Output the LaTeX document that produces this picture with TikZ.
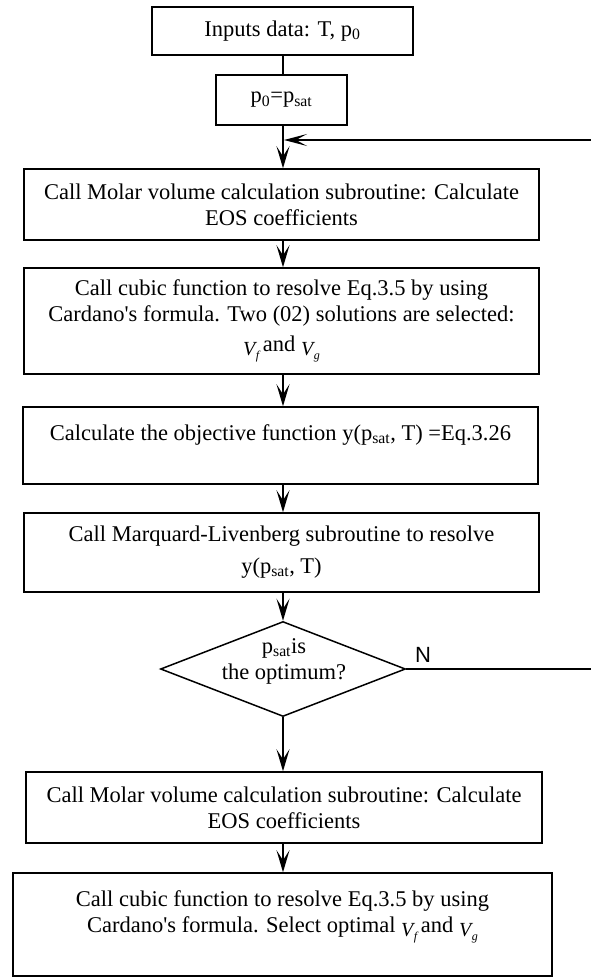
\documentclass[tikz,border=0pt]{standalone}
\usepackage{fontspec}
\setmainfont{Liberation Serif}[Ligatures=TeXOff]
\newfontfamily\labelsans{Liberation Sans}
\usetikzlibrary{shapes.geometric,arrows.meta}

% molar volume symbol with a small italic index
\newcommand{\molv}[1]{\raisebox{-4pt}{\fontsize{20}{20}\selectfont\itshape V\kern0.5pt\raisebox{-4pt}{\fontsize{12}{12}\selectfont #1}}}
\newcommand{\psat}{p\textsubscript{sat}}

\begin{document}
\begin{tikzpicture}[x=1pt,y=-1pt,
  every node/.style={font=\fontsize{22.5}{26}\selectfont},
  box/.style={draw, line width=1.5pt, align=center, inner sep=0pt},
  decision/.style={draw, diamond, line width=1.5pt, inner sep=0pt},
  link/.style={line width=1.5pt},
  flow/.style={line width=1.5pt, -{Stealth[length=22pt,width=13pt,inset=10pt]}},
  back/.style={line width=1.5pt, -{Stealth[length=23pt,width=12pt,inset=11pt]}},
]
\useasboundingbox (0,0) rectangle (591,977);

% process boxes
\node[box, minimum width=261pt, minimum height=48pt] (b1) at (282.5,31) {Inputs data: T, p\textsubscript{0}};
\node[box, minimum width=131pt, minimum height=50pt] (b2) at (281.5,100) {p\textsubscript{0}=\psat};
\node[box, minimum width=515pt, minimum height=71pt] (b3) at (281.5,204.5)
  {Call Molar volume calculation subroutine: Calculate\\EOS coefficients};
\node[box, minimum width=515pt, minimum height=106pt] (b4) at (281.5,321)
  {Call cubic function to resolve Eq.3.5 by using\\Cardano's formula. Two (02) solutions are selected:\\[4pt]\molv{f}\,and \molv{g}};
\node[box, minimum width=515pt, minimum height=77pt] (b5) at (280.5,445.5)
  {Calculate the objective function y(\psat, T) =Eq.3.26\\ \mbox{}};
\node[box, minimum width=515pt, minimum height=79pt] (b6) at (281.5,552.5)
  {Call Marquard-Livenberg subroutine to resolve\\[6pt]y(\psat, T)};

% decision
\node[decision, minimum width=245pt, minimum height=95pt] (d) at (283,669) {};
\node[align=center, inner sep=0pt] (dt) at (284,661) {\psat is\\the optimum?};
\node[font=\labelsans\fontsize{22}{22}\selectfont] (nlab) at (423,655) {N};

\node[box, minimum width=516pt, minimum height=71pt] (b7) at (284,807.5)
  {Call Molar volume calculation subroutine: Calculate\\EOS coefficients};
\node[box, minimum width=539pt, minimum height=103pt] (b8) at (282.5,924.5)
  {Call cubic function to resolve Eq.3.5 by using\\Cardano's formula. Select optimal \molv{f}\,and \molv{g}\\ \mbox{}};

% connectors
\coordinate (fb) at (284,140);
\coordinate (loop) at (598,669);
\draw[link] (b1.south -| d.north) -- (b2.north -| d.north);
\draw[flow] (b2.south -| d.north) -- (b3.north -| d.north);
\draw[flow] (b3.south -| d.north) -- (b4.north -| d.north);
\draw[flow] (b4.south -| d.north) -- (b5.north -| d.north);
\draw[flow] (b5.south -| d.north) -- (b6.north -| d.north);
\draw[flow] (b6.south -| d.north) -- (d.north);
\draw[flow] (d.south) -- (b7.north -| d.south);
\draw[flow] (b7.south -| d.south) -- (b8.north -| d.south);
\draw[back] (d.east) -- (loop) |- (fb);
\end{tikzpicture}
\end{document}
